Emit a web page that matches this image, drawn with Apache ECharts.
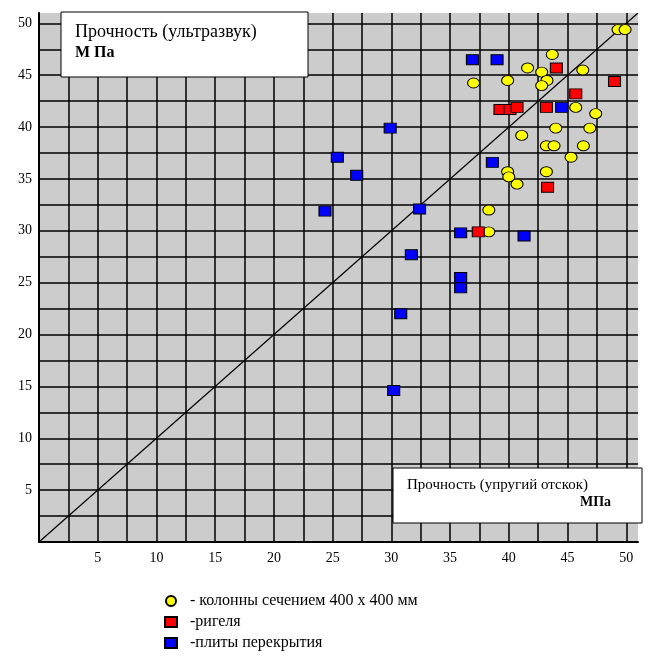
<!DOCTYPE html>
<html>
<head>
<meta charset="utf-8">
<script src="https://cdn.jsdelivr.net/npm/echarts@6/dist/echarts.min.js"></script>
<style>
  html, body { margin: 0; padding: 0; background: #fff; }
  #main { width: 651px; height: 659px; }
</style>
</head>
<body>
<div id="main"></div>
<script>
// колонны (x - упругий отскок, y - ультразвук)
var columns = [
  [49.3, 49.4], [49.9, 49.4], [43.7, 47.0], [41.6, 45.7], [42.8, 45.3],
  [46.3, 45.5], [43.25, 44.5], [42.8, 44.0], [39.9, 44.5], [37.0, 44.25],
  [45.7, 41.9], [47.4, 41.3], [44.0, 39.9], [46.9, 39.9], [41.1, 39.2],
  [43.2, 38.2], [43.85, 38.2], [46.35, 38.2], [45.3, 37.1], [39.9, 35.7],
  [40.0, 35.2], [43.2, 35.7], [40.7, 34.5], [38.3, 32.0], [38.3, 29.9]
];
// ригели
var beams = [
  [44.05, 45.7], [49.0, 44.4], [45.7, 43.2], [39.25, 41.7], [40.1, 41.7],
  [40.7, 41.9], [43.2, 41.9], [43.3, 34.2], [37.4, 29.9]
];
// плиты перекрытия
var slabs = [
  [36.9, 46.5], [39.0, 46.5], [44.5, 41.9], [29.9, 39.9], [25.4, 37.1],
  [27.05, 35.35], [38.6, 36.6], [24.35, 31.9], [32.4, 32.1], [35.9, 29.8],
  [41.3, 29.5], [31.7, 27.7], [35.9, 25.5], [35.9, 24.5], [30.8, 22.0],
  [30.2, 14.6]
];
var diagonal = [[0, 0], [51, 51]];
var seriesNames = ['- колонны сечением 400 х 400 мм', '-ригеля', '-плиты перекрытия'];

var serif = '"Liberation Serif", "Times New Roman", serif';
var myChart = echarts.init(document.getElementById('main'));

function tickLabel(v) {
  return (v > 0 && v % 5 === 0) ? String(v) : '';
}

var axisCommon = {
  type: 'value',
  min: 0,
  max: 51,
  interval: 2.5,
  axisLine: { show: true, lineStyle: { color: '#000', width: 2 } },
  axisTick: { show: false },
  splitLine: { show: true, showMaxLine: false, lineStyle: { color: '#000', width: 1.5, type: 'solid' } },
  axisLabel: { formatter: tickLabel, color: '#000', fontFamily: serif, fontSize: 14, showMaxLabel: false }
};

myChart.setOption({
  animation: false,
  grid: {
    left: 39, top: 13, right: 13, bottom: 117,
    show: true, backgroundColor: '#cccccc', borderWidth: 0
  },
  xAxis: Object.assign({}, axisCommon, {
    axisLabel: Object.assign({}, axisCommon.axisLabel, { margin: 9 })
  }),
  yAxis: Object.assign({}, axisCommon, {
    axisLabel: Object.assign({}, axisCommon.axisLabel, { margin: 7 })
  }),
  legend: {
    data: seriesNames,
    orient: 'vertical',
    left: 164,
    top: 593,
    height: 66,
    padding: 0,
    itemWidth: 12,
    itemHeight: 10,
    itemGap: 5,
    textStyle: { color: '#000', fontFamily: serif, fontSize: 16, padding: [0, 0, 0, 8] }
  },
  series: [
    {
      type: 'line', data: diagonal, symbol: 'none', silent: true,
      lineStyle: { color: '#000', width: 1.2, type: 'solid' }, z: 1
    },
    {
      name: seriesNames[0], type: 'scatter', data: columns,
      symbol: 'circle', symbolSize: [12, 10],
      itemStyle: { color: '#ffff00', borderColor: '#000', borderWidth: 1, opacity: 1 }, z: 3
    },
    {
      name: seriesNames[1], type: 'scatter', data: beams,
      symbol: 'rect', symbolSize: [12, 10],
      itemStyle: { color: '#ff0000', borderColor: '#000', borderWidth: 1, opacity: 1 }, z: 3
    },
    {
      name: seriesNames[2], type: 'scatter', data: slabs,
      symbol: 'rect', symbolSize: [12, 10],
      itemStyle: { color: '#0000ff', borderColor: '#000', borderWidth: 1, opacity: 1 }, z: 3
    }
  ],
  graphic: [
    { type: 'rect', z: 100, shape: { x: 61, y: 12, width: 247, height: 65 },
      style: { fill: '#fff', stroke: '#000', lineWidth: 1 } },
    { type: 'text', z: 101, x: 75, y: 23,
      style: { text: 'Прочность (ультразвук)', font: '18px ' + serif, fill: '#000' } },
    { type: 'text', z: 101, x: 75, y: 45,
      style: { text: 'М Па', font: 'bold 16px ' + serif, fill: '#000' } },
    { type: 'rect', z: 100, shape: { x: 393, y: 468, width: 249, height: 55 },
      style: { fill: '#fff', stroke: '#000', lineWidth: 1 } },
    { type: 'text', z: 101, x: 407, y: 478,
      style: { text: 'Прочность (упругий отскок)', font: '15px ' + serif, fill: '#000' } },
    { type: 'text', z: 101, x: 580, y: 495,
      style: { text: 'МПа', font: 'bold 14px ' + serif, fill: '#000' } }
  ]
});
</script>
</body>
</html>
